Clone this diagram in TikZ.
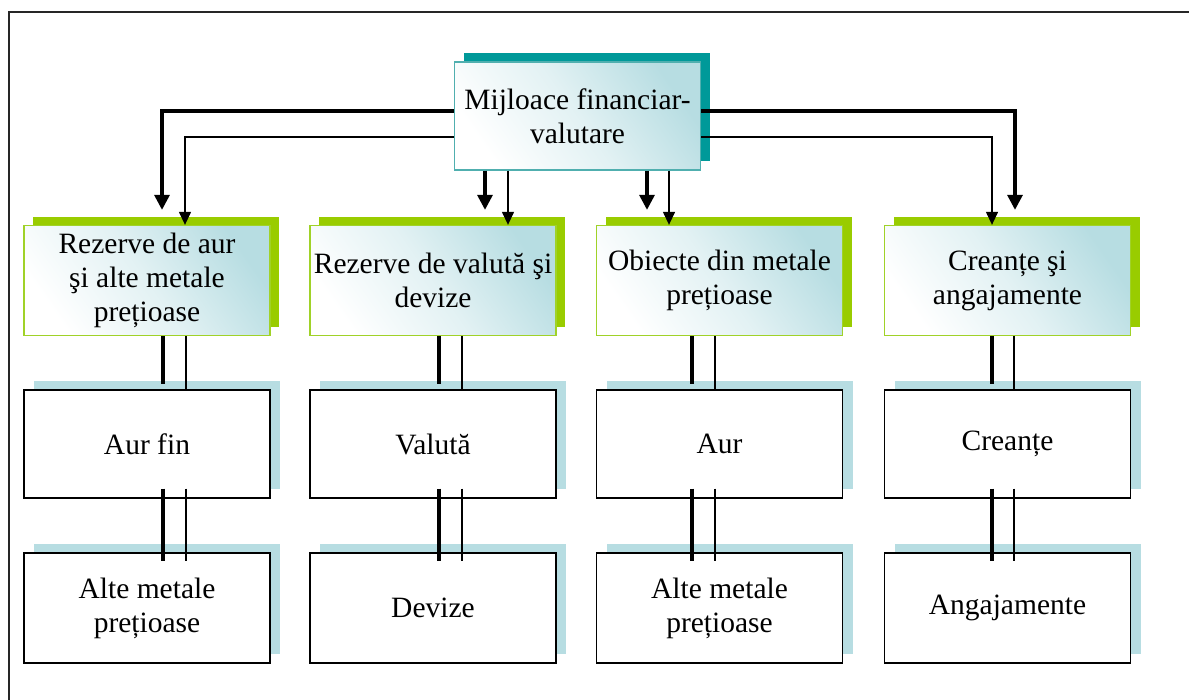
\documentclass[tikz,border=0pt]{standalone}
\usepackage{fontspec}
\setmainfont{Liberation Serif}
\usetikzlibrary{arrows.meta,shadows}
\definecolor{tealshade}{RGB}{0,153,153}
\definecolor{tealline}{RGB}{80,175,175}
\definecolor{limeshade}{RGB}{153,204,0}
\definecolor{limeline}{RGB}{160,210,40}
\definecolor{paleblue}{RGB}{183,221,226}
\tikzset{
  box/.style={minimum width=246pt, minimum height=110pt, inner sep=0pt,
    align=center, font=\fontsize{29.5}{34}\selectfont},
  glossy/.style={shading=axis, top color=paleblue, bottom color=white,
    middle color=paleblue!40, shading angle=-55, line width=1.3pt},
  headbox/.style={box, glossy, minimum height=108pt, draw=tealline,
    drop shadow={shadow xshift=9pt, shadow yshift=9pt, fill=tealshade, opacity=1}},
  groupbox/.style={box, glossy, draw=limeline,
    drop shadow={shadow xshift=9pt, shadow yshift=8pt, fill=limeshade, opacity=1}},
  itembox/.style={box, fill=white, draw=black, line width=1.3pt,
    drop shadow={shadow xshift=10pt, shadow yshift=9pt, fill=paleblue, opacity=1}},
  thickarr/.style={line width=3.2pt, -{Triangle[length=15pt,width=15pt]}},
  thinarr/.style={line width=1.3pt, -{Triangle[length=13pt,width=12pt]}},
  thickline/.style={line width=3.2pt},
  thinline/.style={line width=1.3pt},
}
\begin{document}
\begin{tikzpicture}[x=1pt,y=-1pt]
  \useasboundingbox (0,0) rectangle (1189,700);
  \draw[line width=1.6pt, black!85] (9,700) -- (9,12) -- (1189,12);

  \node[headbox] (mfv) at (577.5,116) {Mijloace financiar-\\valutare};

  \node[groupbox] (rAur)     at (147,280.5)   {Rezerve de aur\\şi alte metale\\prețioase};
  \node[groupbox] (rValuta)  at (433,280.5)   {Rezerve de valută şi\\devize};
  \node[groupbox] (rObiecte) at (719.5,280.5) {Obiecte din metale\\prețioase};
  \node[groupbox] (rCreante) at (1007.5,280.5){Creanțe şi\\angajamente};

  \node[itembox, minimum height=108pt] (aurFin)  at (147,444)    {Aur fin};
  \node[itembox, minimum height=108pt] (valuta)  at (433,444)    {Valută};
  \node[itembox, minimum height=108pt] (aur)     at (719.5,444)  {Aur};
  \node[itembox, minimum height=108pt] (creante) at (1007.5,444) {Creanțe};

  \node[itembox] (alteA)       at (147,608)    {Alte metale\\prețioase};
  \node[itembox] (devize)      at (433,608)    {Devize};
  \node[itembox] (alteB)       at (719.5,608)  {Alte metale\\prețioase};
  \node[itembox] (angajamente) at (1007.5,608) {Angajamente};

  % drop points under the head box
  \coordinate (dValutaK) at ([xshift=52pt]rValuta.north);
  \coordinate (dValutaN) at ([xshift=75pt]rValuta.north);
  \coordinate (dObiectK) at ([xshift=-72.5pt]rObiecte.north);
  \coordinate (dObiectN) at ([xshift=-50.5pt]rObiecte.north);

  \draw[thickarr, shorten >=15pt] ([yshift=5pt]mfv.west) -| ([xshift=15pt]rAur.north);
  \draw[thinarr] ([yshift=-21pt]mfv.west) -| ([xshift=38pt]rAur.north);
  \draw[thickarr, shorten >=15pt] (dValutaK |- mfv.south) -- (dValutaK);
  \draw[thinarr] (dValutaN |- mfv.south) -- (dValutaN);
  \draw[thickarr, shorten >=15pt] (dObiectK |- mfv.south) -- (dObiectK);
  \draw[thinarr] (dObiectN |- mfv.south) -- (dObiectN);
  \draw[thickarr, shorten >=15pt] ([yshift=5pt]mfv.east) -| ([xshift=7.5pt]rCreante.north);
  \draw[thinarr] ([yshift=-21pt]mfv.east) -| ([xshift=-15.5pt]rCreante.north);

  % groups to items
  \draw[thickline] ([xshift=16pt]rAur.south) -- ([xshift=16pt,yshift=5pt]aurFin.north);
  \draw[thinline] ([xshift=39pt]rAur.south) -- ([xshift=39pt]aurFin.north);
  \draw[thickline] ([xshift=6pt]rValuta.south) -- ([xshift=6pt,yshift=5pt]valuta.north);
  \draw[thinline] ([xshift=29pt]rValuta.south) -- ([xshift=29pt]valuta.north);
  \draw[thickline] ([xshift=-27.5pt]rObiecte.south) -- ([xshift=-27.5pt,yshift=5pt]aur.north);
  \draw[thinline] ([xshift=-4.5pt]rObiecte.south) -- ([xshift=-4.5pt]aur.north);
  \draw[thickline] ([xshift=-15.5pt]rCreante.south) -- ([xshift=-15.5pt,yshift=5pt]creante.north);
  \draw[thinline] ([xshift=6.5pt]rCreante.south) -- ([xshift=6.5pt]creante.north);

  \draw[thickline] ([xshift=16pt,yshift=10pt]aurFin.south) -- ([xshift=16pt,yshift=-9pt]alteA.north);
  \draw[thinline] ([xshift=39pt,yshift=10pt]aurFin.south) -- ([xshift=39pt,yshift=-9pt]alteA.north);
  \draw[thickline] ([xshift=6pt,yshift=10pt]valuta.south) -- ([xshift=6pt,yshift=-9pt]devize.north);
  \draw[thinline] ([xshift=29pt,yshift=10pt]valuta.south) -- ([xshift=29pt,yshift=-9pt]devize.north);
  \draw[thickline] ([xshift=-27.5pt,yshift=10pt]aur.south) -- ([xshift=-27.5pt,yshift=-9pt]alteB.north);
  \draw[thinline] ([xshift=-4.5pt,yshift=10pt]aur.south) -- ([xshift=-4.5pt,yshift=-9pt]alteB.north);
  \draw[thickline] ([xshift=-15.5pt,yshift=10pt]creante.south) -- ([xshift=-15.5pt,yshift=-9pt]angajamente.north);
  \draw[thinline] ([xshift=6.5pt,yshift=10pt]creante.south) -- ([xshift=6.5pt,yshift=-9pt]angajamente.north);
\end{tikzpicture}
\end{document}
